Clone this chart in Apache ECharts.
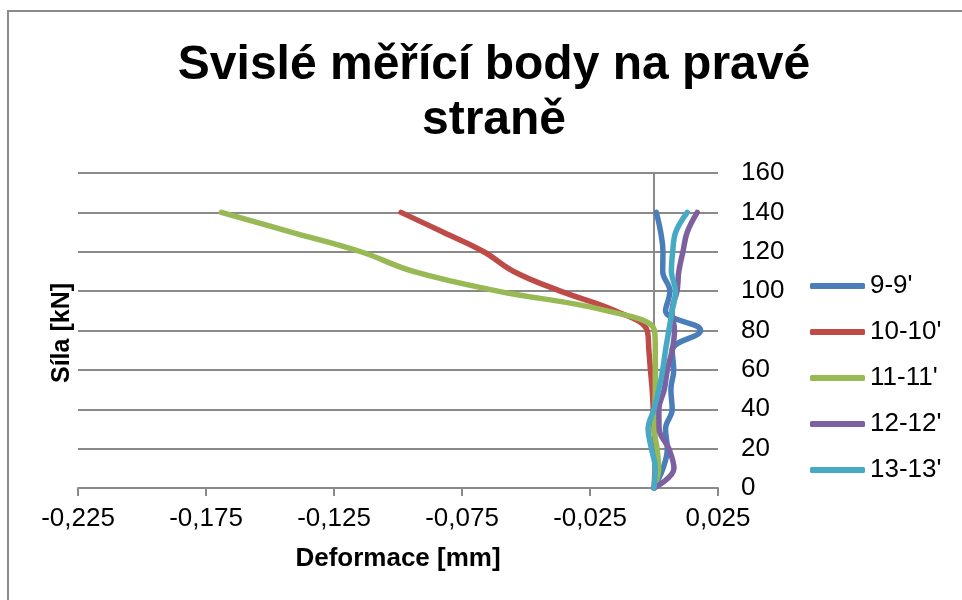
<!DOCTYPE html>
<html>
<head>
<meta charset="utf-8">
<title>Svislé měřící body na pravé straně</title>
<script src="https://cdn.jsdelivr.net/npm/echarts@6/dist/echarts.min.js"></script>
<style>
    html, body { margin: 0; padding: 0; background: #fff; }
    #chart { width: 962px; height: 600px; }
</style>
</head>
<body>
<div id="chart"></div>
<script type="text/javascript">
// zatížení [kN]
var loads = [0, 10, 20, 30, 40, 50, 60, 70, 80, 90, 100, 110, 120, 130, 140];
// deformace [mm] pro jednotlivé body
var def9 = [0, 0.0035, 0.0052, 0.0045, 0.0071, 0.0066, 0.0077, 0.0071, 0.0182, 0.0045, 0.0062, 0.0034, 0.0035, 0.0026, 0.0009];
var def10 = [0, 0.0004, 0.0005, 0.0000, -0.0003, -0.0007, -0.0014, -0.0020, -0.0027, -0.0152, -0.0366, -0.0548, -0.0665, -0.0825, -0.0988];
var def11 = [0, 0.0018, 0.0012, 0.0001, 0.0003, 0.0005, 0.0005, 0.0005, 0.0002, -0.0183, -0.0610, -0.0940, -0.1145, -0.1418, -0.1690];
var def12 = [0, 0.0078, 0.0058, 0.0020, 0.0019, 0.0040, 0.0052, 0.0071, 0.0080, 0.0070, 0.0090, 0.0097, 0.0113, 0.0130, 0.0169];
var def13 = [0, 0.0005, -0.0010, -0.0023, 0.0000, 0.0019, 0.0034, 0.0045, 0.0058, 0.0071, 0.0084, 0.0068, 0.0073, 0.0085, 0.0130];

var seriesNames = ["9-9'", "10-10'", "11-11'", "12-12'", "13-13'"];
var seriesColors = ['#4A7EBB', '#BE4B48', '#98B954', '#7D60A0', '#46AAC5'];
var xTicks = [-0.225, -0.175, -0.125, -0.075, -0.025, 0.025];

var font = 'Liberation Sans, Arial, sans-serif';
var gray = '#8a8a8a';

function pairs(defs) {
    return loads.map(function (f, i) { return [defs[i], f]; });
}

var allDefs = [def9, def10, def11, def12, def13];

var chart = echarts.init(document.getElementById('chart'));
var option = {
    animation: false,
    color: seriesColors,
    textStyle: { fontFamily: font },
    title: {
        text: 'Svislé měřící body na pravé\nstraně',
        left: 489,
        top: 33,
        textAlign: 'center',
        textStyle: {
            fontFamily: font,
            fontSize: 48,
            fontWeight: 'bold',
            lineHeight: 55,
            color: '#000'
        }
    },
    graphic: [
        {   // rámeček grafu
            type: 'rect',
            shape: { x: 8, y: 11, width: 1000, height: 1000 },
            style: { fill: null, stroke: '#8c8c8c', lineWidth: 2 },
            silent: true
        },
        {
            type: 'text',
            x: 62,
            y: 333,
            rotation: Math.PI / 2,
            style: {
                text: 'Síla [kN]',
                font: 'bold 25px ' + font,
                fill: '#000',
                textAlign: 'center',
                textVerticalAlign: 'middle'
            }
        }
    ],
    legend: {
        orient: 'vertical',
        left: 805,
        top: 266,
        icon: 'roundRect',
        itemWidth: 55,
        itemHeight: 6,
        itemGap: 16,
        textStyle: { fontFamily: font, fontSize: 26, color: '#000', lineHeight: 30 },
        data: seriesNames
    },
    grid: {
        left: 78,
        top: 173,
        width: 640,
        height: 315
    },
    xAxis: {
        type: 'value',
        min: -0.225,
        max: 0.025,
        name: 'Deformace [mm]',
        nameLocation: 'middle',
        nameGap: 58,
        nameTextStyle: { fontFamily: font, fontSize: 26, fontWeight: 'bold', color: '#000' },
        axisLine: { onZero: false, lineStyle: { color: gray, width: 2 } },
        axisTick: { show: true, length: 8, lineStyle: { color: gray, width: 2 }, customValues: xTicks },
        axisLabel: {
            customValues: xTicks,
            margin: 18,
            fontFamily: font,
            fontSize: 26,
            color: '#000',
            formatter: function (v) { return v.toFixed(3).replace('.', ','); }
        },
        splitLine: { show: false }
    },
    yAxis: [
        {
            type: 'value',
            position: 'right',
            min: 0,
            max: 160,
            interval: 20,
            axisLine: { show: false, onZero: false },
            axisTick: { show: false },
            axisLabel: { margin: 23, fontFamily: font, fontSize: 26, color: '#000' },
            splitLine: { lineStyle: { color: gray, width: 2 } }
        },
        {   // svislá osa v nule
            type: 'value',
            min: 0,
            max: 160,
            axisLine: { show: true, onZero: true, lineStyle: { color: gray, width: 2 } },
            axisTick: { show: false },
            axisLabel: { show: false },
            splitLine: { show: false }
        }
    ],
    series: seriesNames.map(function (name, k) {
        return {
            name: name,
            type: 'line',
            smooth: 0.4,
            symbol: 'none',
            lineStyle: { width: 5.5, cap: 'round', join: 'round' },
            data: pairs(allDefs[k])
        };
    })
};
chart.setOption(option);
</script>
</body>
</html>
